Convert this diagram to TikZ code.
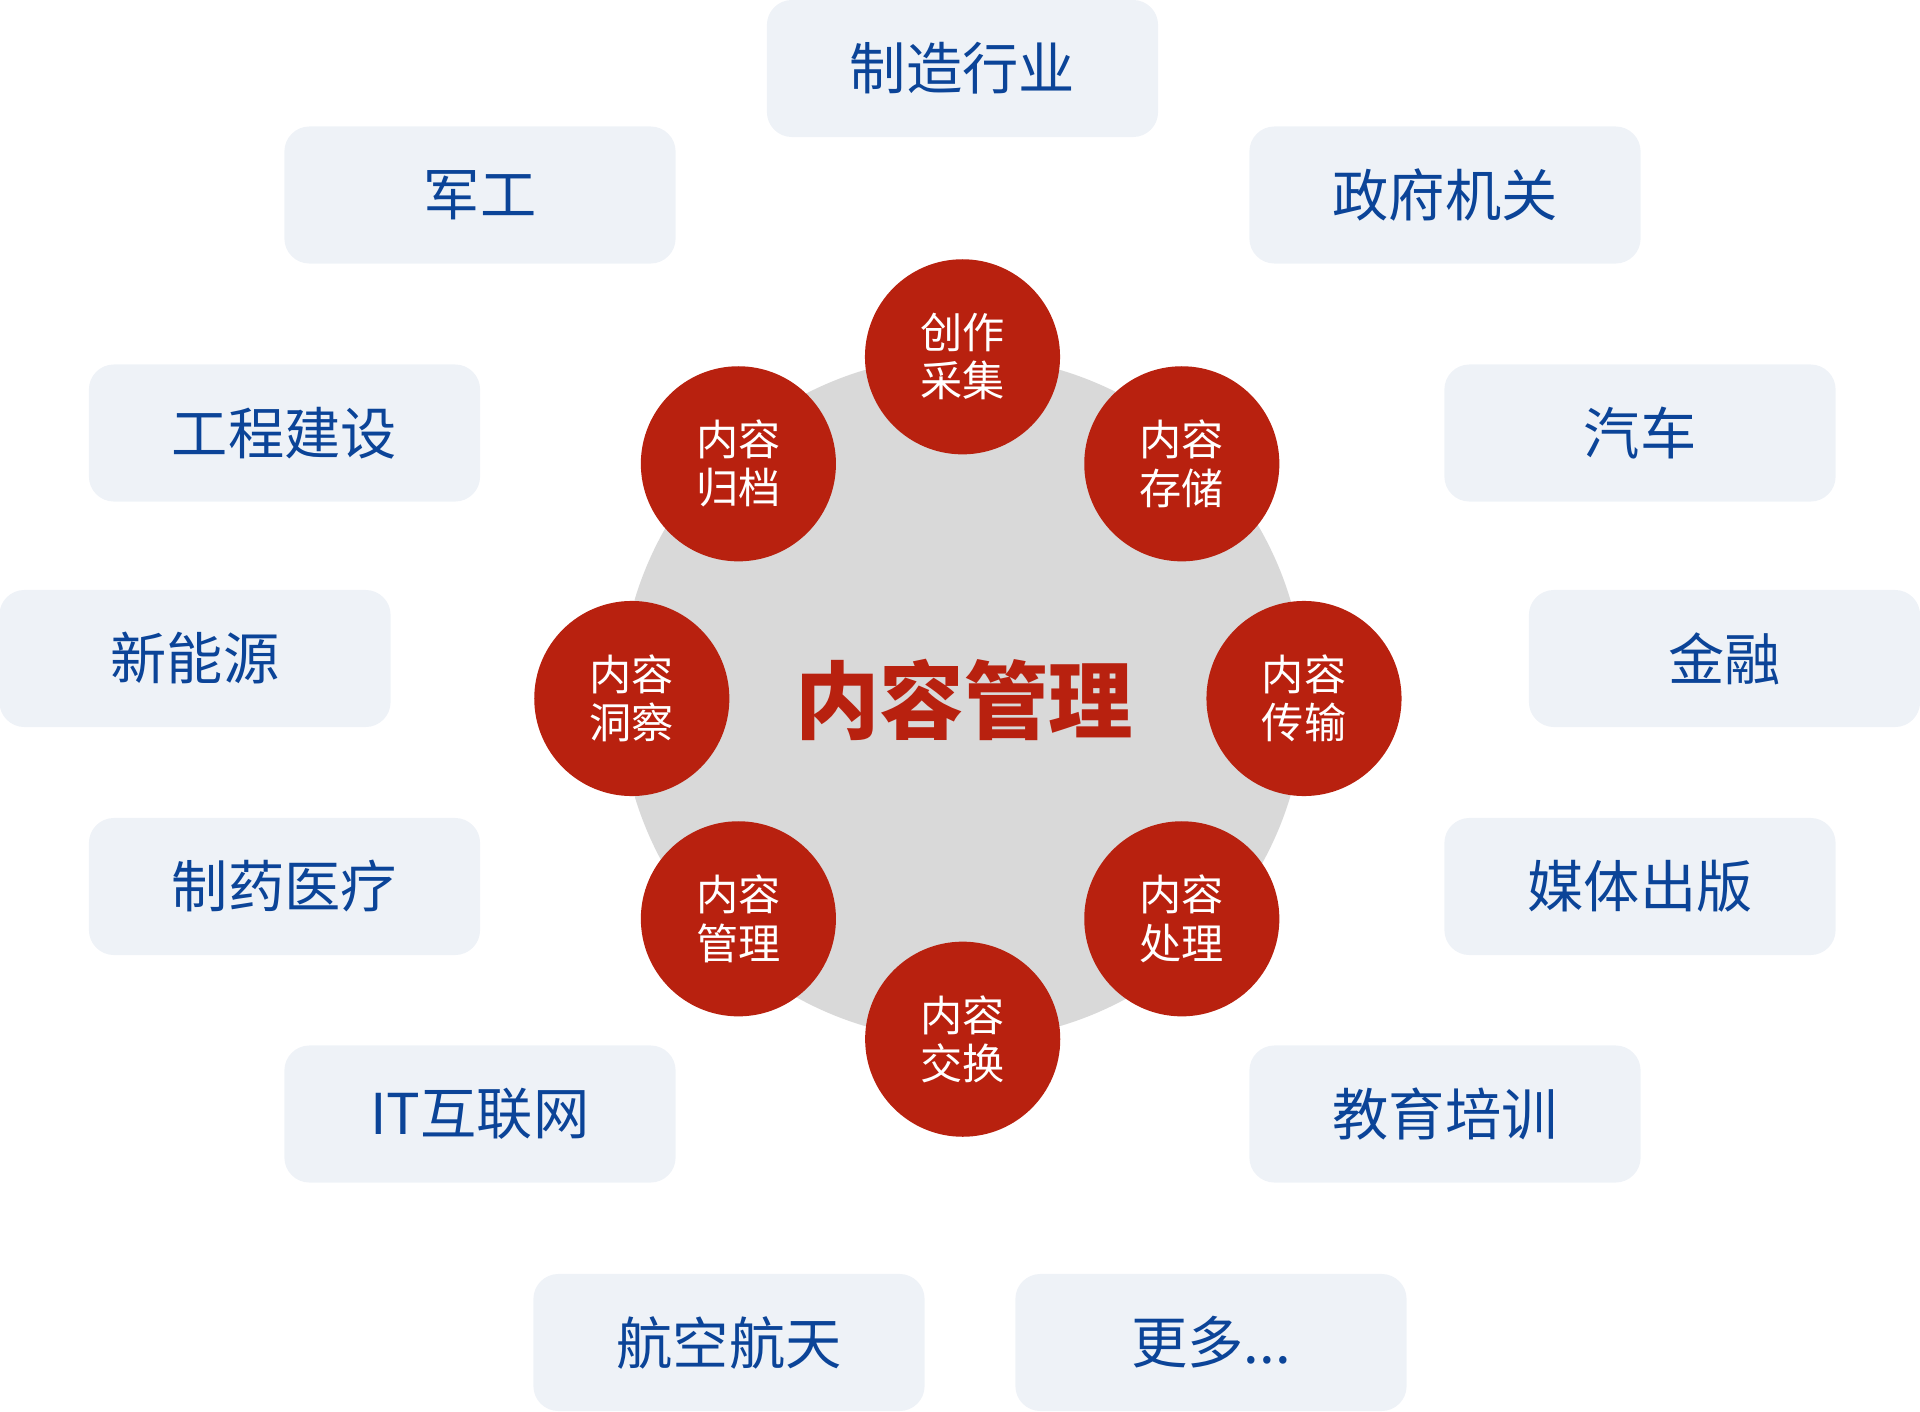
\documentclass[tikz,border=0pt]{standalone}
\usepackage{fontspec}
\setmainfont{Noto Sans CJK SC}
\definecolor{stagered}{HTML}{B8210F}
\definecolor{hubgrey}{HTML}{D9D9D9}
\definecolor{fieldbg}{HTML}{EEF2F7}
\definecolor{fieldblue}{HTML}{0B4498}
\begin{document}
\begin{tikzpicture}[x=0.01cm, y=-0.01cm,
   field/.style={fill=fieldbg, rounded corners=0.25cm, minimum width=3.91cm,
     minimum height=1.37cm, inner sep=0pt, text=fieldblue,
     font=\fontsize{16}{19}\selectfont},
   stage/.style={circle, fill=stagered, minimum size=1.95cm, inner sep=0pt,
     text=white, align=center, font=\fontsize{12}{13.7}\selectfont}]
   \useasboundingbox (0,0) rectangle (1920,1412);
   \node[circle, fill=hubgrey, minimum size=6.84cm, inner sep=0pt] (hub) at (962.5,698) {};
   \node[text=stagered, font=\fontsize{24}{28}\selectfont\bfseries] (title) at (964,700) {内容管理};
   \foreach \px/\py/\nm/\lna/\lnb in
     { 962.5/356.8/collect/创作/采集,
      1181.8/463.8/store/内容/存储,
      1304.0/698.5/transfer/内容/传输,
      1181.8/918.8/process/内容/处理,
       962.7/1039.2/exchange/内容/交换,
       738.4/918.8/manage/内容/管理,
       631.8/698.5/insight/内容/洞察,
       738.4/463.8/archive/内容/归档
     }
     \node[stage] (\nm) at (\px,\py) {\lna\\\lnb};
   \foreach \px/\py/\nm/\txt in
     { 962.5/68.5/make/制造行业,
       480.0/195.0/military/军工,
      1445.0/195.0/gov/政府机关,
       284.5/433.0/construct/工程建设,
      1640.0/433.0/auto/汽车,
       195.0/658.5/energy/新能源,
      1724.5/658.5/finance/金融,
       284.5/886.5/pharma/制药医疗,
      1640.0/886.5/media/媒体出版,
       480.0/1114.0/internet/IT互联网,
      1445.0/1114.0/edu/教育培训,
       729.0/1342.5/aero/航空航天,
      1211.0/1342.5/more/{更多...}
     }
     \node[field] (\nm) at (\px,\py) {\txt};
\end{tikzpicture}
\end{document}
